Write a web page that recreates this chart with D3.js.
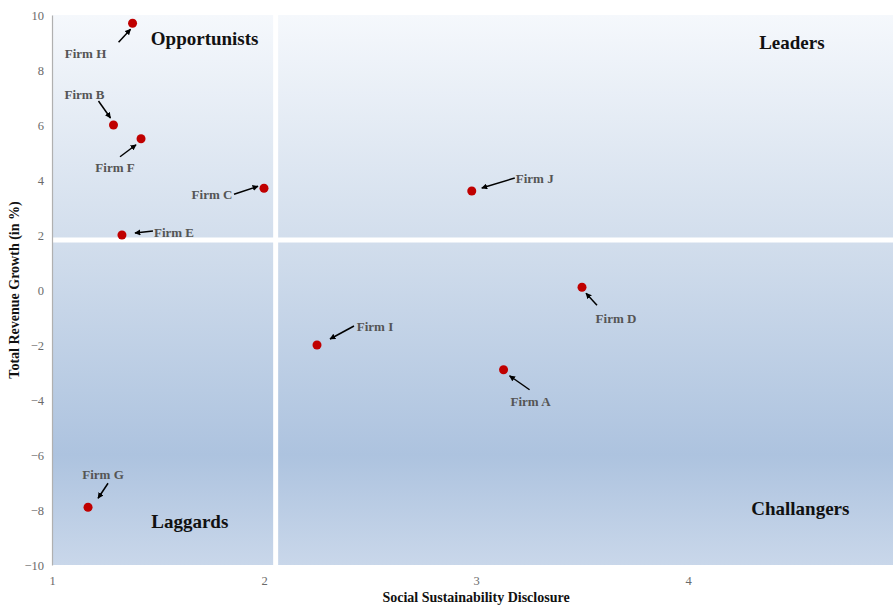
<!DOCTYPE html>
<html>
<head>
<meta charset="utf-8">
<script src="https://cdn.jsdelivr.net/npm/d3@7"></script>
<style>
  html, body { margin: 0; padding: 0; background: #fff; }
  svg { display: block; }
</style>
</head>
<body>
<div id="chart"></div>
<script>
// Firms plotted by social sustainability disclosure vs. revenue growth
const firms      = ["Firm A", "Firm B", "Firm C", "Firm D", "Firm E", "Firm F", "Firm G", "Firm H", "Firm I", "Firm J"];
const disclosure = [3.13, 1.29, 2.0, 3.5, 1.33, 1.42, 1.17, 1.38, 2.25, 2.98];
const growth     = [-2.9, 6.0, 3.7, 0.1, 2.0, 5.5, -7.9, 9.7, -2.0, 3.6];

const xTicks = [1, 2, 3, 4];
const yTicks = [-10, -8, -6, -4, -2, 0, 2, 4, 6, 8, 10];

// Quadrant split (data units)
const splitX = 2.055;
const splitY = 1.82;
const quadrants = ["Opportunists", "Leaders", "Laggards", "Challangers"];

// Annotation placement relative to each point (pixels):
// label anchor [dx, dy, text-anchor], arrow tail [dx, dy], arrow head [dx, dy]
const annotations = {
  "Firm A": { label: [27, 32, "middle"], tail: [26, 20], head: [6, 6] },
  "Firm B": { label: [-29, -31, "middle"], tail: [-15, -24], head: [-3, -7] },
  "Firm C": { label: [-52, 6, "middle"], tail: [-30, 6], head: [-6, -2] },
  "Firm D": { label: [34, 31, "middle"], tail: [15, 18], head: [4, 6] },
  "Firm E": { label: [32, -3, "start"], tail: [31, -4], head: [13, -2] },
  "Firm F": { label: [-26, 29, "middle"], tail: [-21, 18], head: [-5, 6] },
  "Firm G": { label: [15, -33, "middle"], tail: [20, -24], head: [10, -9] },
  "Firm H": { label: [-47, 30, "middle"], tail: [-14, 19], head: [-2, 6] },
  "Firm I": { label: [58, -19, "middle"], tail: [37, -19], head: [13, -6] },
  "Firm J": { label: [44, -13, "start"], tail: [43, -13], head: [10, -3] }
};

const W = 893, H = 606;
const margin = { left: 52, top: 15, right: -7, bottom: 41 };

const svg = d3.select("#chart").append("svg")
  .attr("width", W).attr("height", H);

const x = d3.scaleLinear().domain([1, 5]).range([margin.left, W - margin.right]);
const y = d3.scaleLinear().domain([-10, 10]).range([H - margin.bottom, margin.top]);

const defs = svg.append("defs");
const grad = defs.append("linearGradient")
  .attr("id", "bg")
  .attr("gradientUnits", "userSpaceOnUse")
  .attr("x1", 0).attr("x2", 0)
  .attr("y1", y(10)).attr("y2", y(-10));
[
  [0, "#f5f8fc"],
  [0.42, "#d1ddec"],
  [0.8, "#adc3df"],
  [1, "#c9d7ea"]
].forEach(([o, c]) => grad.append("stop").attr("offset", o).attr("stop-color", c));

defs.append("marker")
  .attr("id", "arrow")
  .attr("viewBox", "0 0 10 10")
  .attr("refX", 9).attr("refY", 5)
  .attr("markerWidth", 6).attr("markerHeight", 6)
  .attr("markerUnits", "userSpaceOnUse")
  .attr("orient", "auto")
  .append("path")
  .attr("d", "M0,0 L10,5 L0,10 z")
  .attr("fill", "#000");

// Plot background
svg.append("rect")
  .attr("x", x(1)).attr("y", y(10))
  .attr("width", x(5) - x(1)).attr("height", y(-10) - y(10))
  .attr("fill", "url(#bg)");

// Quadrant dividers
svg.append("line")
  .attr("x1", x(splitX)).attr("x2", x(splitX))
  .attr("y1", y(10)).attr("y2", y(-10))
  .attr("stroke", "#fff").attr("stroke-width", 5).attr("stroke-linecap", "round");
svg.append("line")
  .attr("x1", x(1)).attr("x2", x(5))
  .attr("y1", y(splitY)).attr("y2", y(splitY))
  .attr("stroke", "#fff").attr("stroke-width", 5).attr("stroke-linecap", "round");

// Axes
const yAxis = svg.append("g")
  .attr("transform", `translate(${x(1)},0)`)
  .call(d3.axisLeft(y).tickValues(yTicks).tickSize(0).tickPadding(8)
    .tickFormat(d => d < 0 ? "\u2212" + Math.abs(d) : d));
yAxis.select(".domain").attr("stroke", "#b0b0b0").attr("stroke-width", 1.2);
yAxis.selectAll("text")
  .attr("fill", "#6a6a6a").attr("font-family", "Liberation Serif, serif").attr("font-size", 12.5);

const xAxis = svg.append("g")
  .attr("transform", `translate(0,${y(-10)})`)
  .call(d3.axisBottom(x).tickValues(xTicks).tickSize(0).tickPadding(11).tickFormat(d3.format("d")));
xAxis.select(".domain").remove();
xAxis.selectAll("text")
  .attr("fill", "#6a6a6a").attr("font-family", "Liberation Serif, serif").attr("font-size", 12.5);

// Axis titles
svg.append("text")
  .attr("x", x(3)).attr("y", 602)
  .attr("text-anchor", "middle")
  .attr("font-family", "Liberation Serif, serif").attr("font-weight", "bold").attr("font-size", 14)
  .attr("fill", "#111")
  .text("Social Sustainability Disclosure");
svg.append("text")
  .attr("transform", `translate(19,${y(0)}) rotate(-90)`)
  .attr("text-anchor", "middle")
  .attr("font-family", "Liberation Serif, serif").attr("font-weight", "bold").attr("font-size", 14)
  .attr("fill", "#111")
  .text("Total Revenue Growth (in %)");

// Quadrant names
const quadPos = [
  { name: quadrants[0], cx: 1.72, cy: 9.15 },
  { name: quadrants[1], cx: 4.49, cy: 9.0 },
  { name: quadrants[2], cx: 1.65, cy: -8.4 },
  { name: quadrants[3], cx: 4.53, cy: -7.95 }
];
svg.append("g").selectAll("text").data(quadPos).join("text")
  .attr("x", d => x(d.cx)).attr("y", d => y(d.cy))
  .attr("text-anchor", "middle").attr("dominant-baseline", "central")
  .attr("font-family", "Liberation Serif, serif").attr("font-weight", "bold").attr("font-size", 19)
  .attr("fill", "#111")
  .text(d => d.name);

// Points
const pts = firms.map((f, i) => ({ name: f, x: disclosure[i], y: growth[i] }));

const ann = svg.append("g");
ann.selectAll("line").data(pts).join("line")
  .attr("x1", d => x(d.x) + annotations[d.name].tail[0])
  .attr("y1", d => y(d.y) + annotations[d.name].tail[1])
  .attr("x2", d => x(d.x) + annotations[d.name].head[0])
  .attr("y2", d => y(d.y) + annotations[d.name].head[1])
  .attr("stroke", "#000").attr("stroke-width", 1.5)
  .attr("marker-end", "url(#arrow)");
ann.selectAll("text").data(pts).join("text")
  .attr("x", d => x(d.x) + annotations[d.name].label[0])
  .attr("y", d => y(d.y) + annotations[d.name].label[1])
  .attr("text-anchor", d => annotations[d.name].label[2])
  .attr("dominant-baseline", "central")
  .attr("font-family", "Liberation Serif, serif").attr("font-weight", "bold").attr("font-size", 13)
  .attr("fill", "#555")
  .text(d => d.name);

svg.append("g").selectAll("circle").data(pts).join("circle")
  .attr("cx", d => x(d.x)).attr("cy", d => y(d.y))
  .attr("r", 4.5)
  .attr("fill", "#c00000");
</script>
</body>
</html>
